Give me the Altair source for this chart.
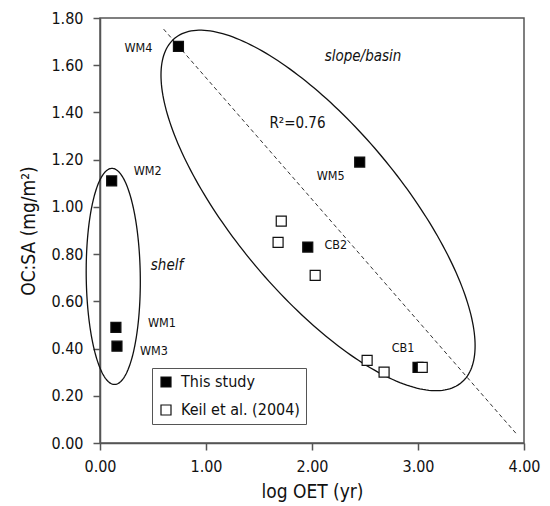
import altair as alt
import numpy as np
import pandas as pd

FONT = "DejaVu Sans Condensed"
INK = "#111111"
FRAME = "#555555"

# Samples from this study (filled squares)
study_sites = ["WM4", "WM2", "WM1", "WM3", "WM5", "CB2", "CB1"]
study_log_oet = [0.74, 0.11, 0.15, 0.16, 2.45, 1.96, 3.00]
study_oc_sa = [1.68, 1.11, 0.49, 0.41, 1.19, 0.83, 0.32]

# Keil et al. (2004) samples (open squares)
keil_log_oet = [1.71, 1.68, 2.03, 2.52, 2.68, 3.04]
keil_oc_sa = [0.94, 0.85, 0.71, 0.35, 0.30, 0.32]

# Regression through the slope/basin samples (R^2 = 0.76)
fit_intercept = 2.062
fit_slope = -0.515
fit_x_range = [0.60, 3.93]

# Axis ticks
x_ticks = [0.0, 1.0, 2.0, 3.0, 4.0]
y_ticks = [0.0, 0.2, 0.4, 0.6, 0.8, 1.0, 1.2, 1.4, 1.6, 1.8]

# Site label placement (pixel offsets from each square)
label_offsets = {
    "WM4": (-40, 2), "WM2": (36, -10), "WM1": (46, -4), "WM3": (37, 5),
    "WM5": (-29, 14), "CB2": (28, -2), "CB1": (-15, -19),
}

points = pd.DataFrame({
    "x": study_log_oet + keil_log_oet,
    "y": study_oc_sa + keil_oc_sa,
    "source": ["This study"] * len(study_log_oet) + ["Keil et al. (2004)"] * len(keil_log_oet),
})

fit = pd.DataFrame({
    "x": fit_x_range,
    "y": [fit_intercept + fit_slope * v for v in fit_x_range],
})


def ellipse(name, cx, cy, ux, uy, vx, vy, n=241):
    """Outline of an ellipse given its centre and two conjugate semi-axis vectors."""
    t = np.linspace(0.0, 2.0 * np.pi, n)
    return pd.DataFrame({
        "x": cx + ux * np.cos(t) + vx * np.sin(t),
        "y": cy + uy * np.cos(t) + vy * np.sin(t),
        "i": np.arange(n),
        "group": name,
    })


groups = pd.concat([
    ellipse("shelf", 0.125, 0.7055, -0.012, 0.4576, 0.255, 0.0),
    ellipse("slope/basin", 2.057, 0.985, 1.3525, -0.7290, -0.6050, -0.2264),
])

x_scale = alt.Scale(domain=[0, 4], nice=False, zero=False)
y_scale = alt.Scale(domain=[0, 1.8], nice=False, zero=False)

x_enc = alt.X("x:Q", scale=x_scale,
              axis=alt.Axis(values=x_ticks, format=".2f", title="log OET (yr)",
                            labelPadding=8, titlePadding=8, labelFlush=False))
y_enc = alt.Y("y:Q", scale=y_scale,
              axis=alt.Axis(values=y_ticks, format=".2f", title="OC:SA (mg/m²)",
                            labelPadding=10, titlePadding=12, labelFlush=False))

ellipse_layer = alt.Chart(groups).mark_line(color=INK, strokeWidth=1.3).encode(
    x=x_enc, y=y_enc, order="i:Q", detail="group:N"
)

fit_layer = alt.Chart(fit).mark_line(color="#333333", strokeWidth=1, strokeDash=[4, 3]).encode(
    x="x:Q", y="y:Q"
)

point_layer = alt.Chart(points).mark_point(
    shape="square", filled=True, size=100, stroke=INK, strokeWidth=1.2, opacity=1
).encode(
    x="x:Q",
    y="y:Q",
    fill=alt.Fill(
        "source:N",
        scale=alt.Scale(domain=["This study", "Keil et al. (2004)"], range=["#000000", "#ffffff"]),
        legend=alt.Legend(
            title=None, orient="none", legendX=52, legendY=350,
            symbolType="square", symbolSize=100, symbolStrokeColor=INK,
            symbolStrokeWidth=1.2, symbolOpacity=1,
            labelFont=FONT, labelFontSize=16, labelColor=INK, labelOffset=7,
            rowPadding=12, padding=6, strokeColor=FRAME, fillColor="white",
        ),
    ),
)

site_df = pd.DataFrame({"x": study_log_oet, "y": study_oc_sa, "site": study_sites})
site_layers = []
for site in study_sites:
    dx, dy = label_offsets[site]
    site_layers.append(
        alt.Chart(site_df[site_df["site"] == site]).mark_text(
            font=FONT, fontSize=12.5, color=INK, dx=dx, dy=dy, align="center", baseline="middle"
        ).encode(x="x:Q", y="y:Q", text="site:N")
    )

notes = pd.DataFrame({
    "x": [1.863, 2.481, 0.632],
    "y": [1.354, 1.638, 0.752],
    "text": ["R²=0.76", "slope/basin", "shelf"],
    "style": ["normal", "italic", "italic"],
})
r2_layer = alt.Chart(notes[notes["style"] == "normal"]).mark_text(
    font=FONT, fontSize=15, color=INK, align="center", baseline="middle"
).encode(x="x:Q", y="y:Q", text="text:N")
group_layer = alt.Chart(notes[notes["style"] == "italic"]).mark_text(
    font=FONT, fontSize=15, fontStyle="italic", color=INK, align="center", baseline="middle"
).encode(x="x:Q", y="y:Q", text="text:N")

chart = alt.layer(
    ellipse_layer, fit_layer, point_layer, *site_layers, r2_layer, group_layer
).properties(
    width=424, height=425,
    autosize=alt.AutoSizeParams(type="none"),
    padding={"left": 100, "top": 18, "right": 26, "bottom": 63},
    background="white",
).configure_view(
    stroke=FRAME, strokeWidth=1.5
).configure_axis(
    grid=False, domainColor=FRAME, domainWidth=1.5, tickColor=FRAME, tickWidth=1.5,
    tickSize=7, labelFont=FONT, labelFontSize=16, labelColor=INK,
    titleFont=FONT, titleFontSize=19, titleFontWeight="normal", titleColor=INK,
)

chart.save("out.html", embed_options={"renderer": "svg", "actions": False})
